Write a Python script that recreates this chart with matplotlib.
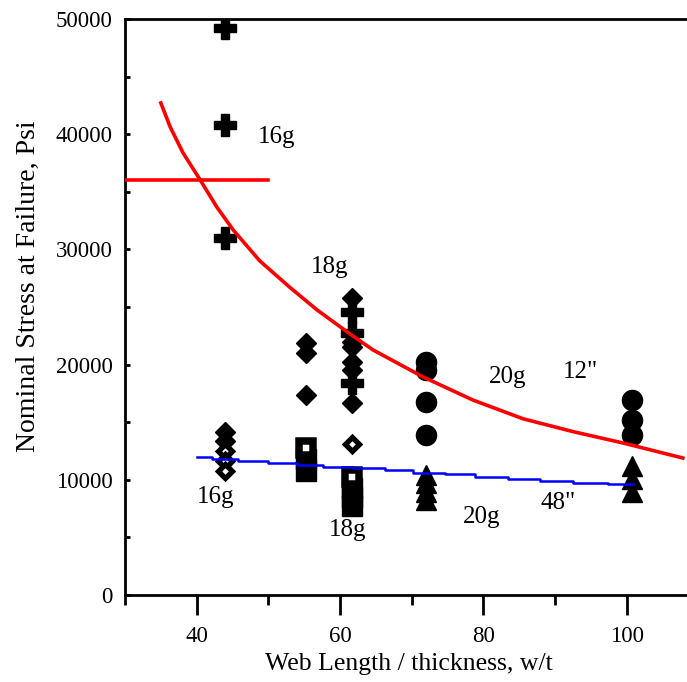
import numpy as np
import matplotlib
matplotlib.use("Agg")
import matplotlib.pyplot as plt
from matplotlib.ticker import MultipleLocator

plt.rcParams['font.family'] = ['Liberation Serif', 'DejaVu Serif']

# test data
plus_x = [44, 44, 44, 61.6, 61.6, 61.6]
plus_y = [49220, 40800, 30990, 24570, 22740, 18400]

diam_x = [44, 44, 55.3, 55.3, 55.3, 61.6, 61.6, 61.6, 61.6, 61.6, 61.6]
diam_y = [14150, 13370, 21880, 21010, 17360, 25780, 22000, 21500, 20230, 19530, 16670]

odiam_x = [44, 44, 44, 61.6]
odiam_y = [12500, 11630, 10760, 13110]

sq_x = [55.3, 55.3, 61.6, 61.6, 61.6]
sq_y = [11810, 10760, 9290, 8510, 7730]

osq_x = [55.3, 61.6]
osq_y = [12760, 10240]

circ_x = [72, 72, 72, 72, 100.7, 100.7, 100.7]
circ_y = [20250, 19530, 16780, 13890, 16930, 15190, 13890]

tri_x = [72, 72, 72, 72, 100.7, 100.7, 100.7]
tri_y = [10420, 9720, 8940, 8250, 11200, 10070, 8940]

# 12" curve
red_x = [35.0, 36.3, 38.1, 40.5, 42.8, 45.1, 48.8, 53.0, 56.8, 61.4, 64.6, 71.6, 78.5, 85.5, 92.5, 99.5, 107.8]
red_y = [42710, 40630, 38370, 36020, 33680, 31680, 29000, 26700, 24740, 22650, 21270, 18920, 16930, 15300, 14180, 13190, 11890]
flat_x = [30, 50]
flat_y = [36000, 36000]

# 48" curve (stepped)
blue_x = [40.0, 42.1, 45.8, 49.9, 54.0, 57.6, 61.8, 66.3, 70.2, 74.6, 78.8, 83.4, 87.9, 92.5, 97.4, 100.9]
blue_y = [12000, 11800, 11660, 11480, 11310, 11140, 11000, 10820, 10620, 10480, 10270, 10100, 9920, 9750, 9610, 9610]

notes = ['16g', '18g', '20g', '12"', '16g', '18g', '20g', '48"']
note_x = [51.1, 58.6, 83.4, 93.5, 42.6, 61.1, 79.8, 90.4]
note_y = [39760, 28470, 18920, 19360, 8510, 5640, 6770, 7990]

fig = plt.figure(figsize=(6.87, 6.82), dpi=100)
ax = fig.add_axes([125/687, 87/682, 562/687, 576/682])

ax.plot(diam_x, diam_y, 'D', color='black', ms=10.5, mew=1, zorder=2)
ax.plot(odiam_x, odiam_y, 'D', mfc='white', mec='black', ms=7, mew=3.8, zorder=3)
ax.plot(sq_x, sq_y, 's', color='black', ms=15, mew=1, zorder=2)
ax.plot(osq_x, osq_y, 's', mfc='white', mec='black', ms=10.6, mew=5.4, zorder=3)
ax.plot(plus_x, plus_y, 'P', color='black', ms=16, mew=1, zorder=3)
ax.plot(circ_x, circ_y, 'o', color='black', ms=14.5, mew=1, zorder=2)
ax.plot(tri_x, tri_y, '^', color='black', ms=15, mew=1, zorder=2)

ax.plot(red_x, red_y, color='#ff0000', lw=2.6, zorder=5)
ax.plot(flat_x, flat_y, color='#ff0000', lw=2.6, zorder=5)
ax.plot(blue_x, blue_y, color='#0000ff', lw=1.8, drawstyle='steps-post', zorder=5)

for t, x, y in zip(notes, note_x, note_y):
    ax.text(x, y, t, fontsize=18, ha='center', va='center')

ax.set_xlim(30, 30 + 562/7.17)
ax.set_ylim(0, 50000)
ax.xaxis.set_major_locator(MultipleLocator(20))
ax.xaxis.set_minor_locator(MultipleLocator(10))
ax.yaxis.set_major_locator(MultipleLocator(10000))
ax.yaxis.set_minor_locator(MultipleLocator(5000))

ax.spines['right'].set_visible(False)
for s in ['left', 'top', 'bottom']:
    ax.spines[s].set_linewidth(2)

ax.tick_params(axis='x', which='major', direction='out', length=14.5, width=2, pad=8, labelsize=16.5)
ax.tick_params(axis='x', which='minor', direction='out', length=7.5, width=2)
ax.tick_params(axis='y', which='both', direction='in', length=3.6, width=2, labelsize=16.5, pad=9)

ax.set_xlabel('Web Length / thickness, w/t', fontsize=18.5)
ax.set_ylabel('Nominal Stress at Failure, Psi', fontsize=20)
ax.xaxis.set_label_coords(0.505, -0.1)
ax.yaxis.set_label_coords(-0.15, 0.536)

fig.savefig('out.png', dpi=100)
